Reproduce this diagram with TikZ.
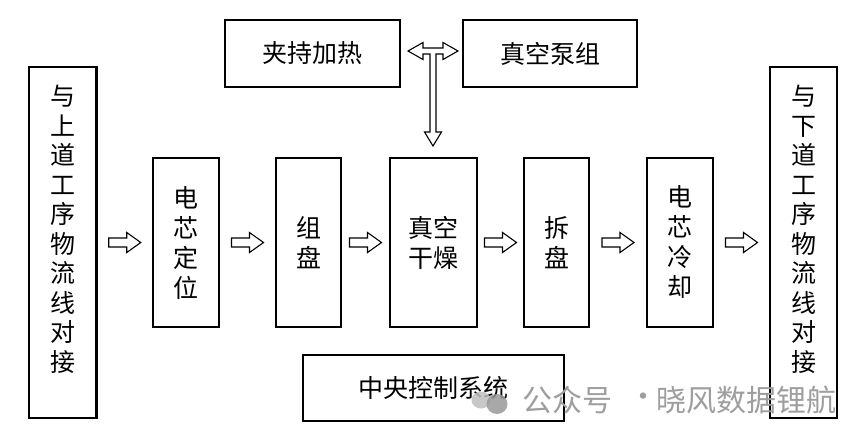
\documentclass[tikz,border=0pt]{standalone}
\usepackage{fontspec}
\setmainfont{Noto Sans CJK SC}
\usetikzlibrary{calc}
\begin{document}
\begin{tikzpicture}[x=1pt,y=-1pt,
  box/.style={draw=black,line width=2.4pt,inner sep=0pt,align=center,
    font=\fontsize{25}{30}\selectfont},
  sidetext/.style={inner sep=0pt,align=center,font=\fontsize{25}{29.5}\selectfont},
  blk/.style={draw=black,line width=1.1pt,fill=white,line join=miter},
  wm/.style={text=black!38,font=\fontsize{30}{31}\selectfont,inner sep=0pt}]
\useasboundingbox[fill=white] (0,0) rectangle (864,444);

% side boxes
\node[box,minimum width=67.5pt,minimum height=351pt] (up) at (62.75,242.5) {};
\node[sidetext] (upt) at ($(up)+(0,-13)$) {与\\上\\道\\工\\序\\物\\流\\线\\对\\接};
\node[box,minimum width=67pt,minimum height=351pt] (down) at (803.5,242.5) {};
\node[sidetext] (downt) at ($(down)+(0,-13)$) {与\\下\\道\\工\\序\\物\\流\\线\\对\\接};

% process boxes
\node[box,minimum width=66pt,minimum height=169pt] (pos) at (186,242.5) {电\\芯\\定\\位};
\node[box,minimum width=65pt,minimum height=169pt] (grp) at (308.5,242.5) {组\\盘};
\node[box,minimum width=87pt,minimum height=169pt] (dry) at (433.5,242.5) {真空\\干燥};
\node[box,minimum width=65pt,minimum height=169pt] (spl) at (556.5,242.5) {拆\\盘};
\node[box,minimum width=66pt,minimum height=169pt] (cool) at (680,242.5) {电\\芯\\冷\\却};

% top boxes
\node[box,minimum width=175pt,minimum height=67pt] (heat) at (312.5,53.5) {夹持加热};
\node[box,minimum width=174pt,minimum height=67pt] (pump) at (550,53.5) {真空泵组};

% bottom box
\node[box,minimum width=261pt,minimum height=66pt] (ctrl) at (433.5,388) {中央控制系统};

% block arrows between boxes
\newcommand\blockarrow[1]{%
  \draw[blk,shift={(#1)}] (-16,-4.5) -- (2,-4.5) -- (2,-10) -- (16,0)
    -- (2,10) -- (2,4.5) -- (-16,4.5) -- cycle;}
\coordinate (m1) at ($(up.east)!0.5!(pos.west)$);
\coordinate (m2) at ($(pos.east)!0.5!(grp.west)$);
\coordinate (m3) at ($(grp.east)!0.5!(dry.west)$);
\coordinate (m4) at ($(dry.east)!0.5!(spl.west)$);
\coordinate (m5) at ($(spl.east)!0.5!(cool.west)$);
\coordinate (m6) at ($(cool.east)!0.5!(down.west)$);
\blockarrow{m1}
\blockarrow{m2}
\blockarrow{m3}
\blockarrow{m4}
\blockarrow{m5}
\blockarrow{m6}

% T-shaped arrow
\coordinate (T) at ($($(heat.east)!0.5!(pump.west)$)+(1.5,-2.5)$);
\draw[blk,shift={(T)}] (-25,0) -- (-10,-8.5) -- (-10,-3) -- (10,-3) -- (10,-8.5)
  -- (25,0) -- (10,8.5) -- (10,3) -- (3,3) -- (3,81) -- (8.5,81) -- (0,95)
  -- (-8.5,81) -- (-3,81) -- (-3,3) -- (-10,3) -- (-10,8.5) -- cycle;

% watermark
\fill[black!25,opacity=0.85] (481,400) ellipse [x radius=9.5pt, y radius=8.5pt];
\fill[black!40,opacity=0.85] (497,404) ellipse [x radius=10.5pt, y radius=10pt];
\node[wm,anchor=west] (wm1) at (522,400) {公众号};
\node[wm] (wm2) at (643,400) {·};
\node[wm,anchor=west] (wm3) at (656,400) {晓风数据锂航};
\end{tikzpicture}
\end{document}
